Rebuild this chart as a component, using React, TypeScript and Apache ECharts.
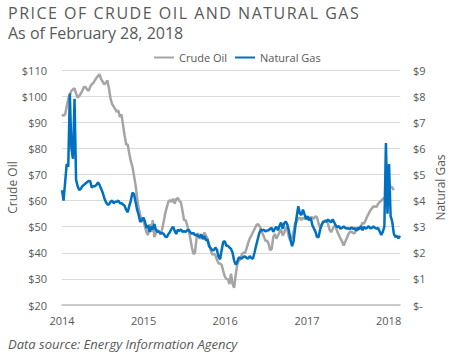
import { useEffect, useRef } from "react";
import * as echarts from "echarts";

// Weekly observations starting 2014-01-01
const startYear = 2014;
const titleText = "PRICE OF CRUDE OIL AND NATURAL GAS";
const subtitleText = "As of February 28, 2018";
const footerText = "Data source: Energy Information Agency";
const seriesNames = ["Crude Oil", "Natural Gas"];

// Crude oil, $ per barrel (weekly)
const oil = [
  93, 92.5, 93, 96, 99, 100.5, 102, 102.5, 103, 101,
  99.5, 100, 101, 102, 103.5, 103.5, 102.5, 102, 103.5, 104.5,
  105, 106, 107, 107.7, 108.3, 106.5, 105.5, 104.5, 105, 106,
  103, 99, 97, 96, 95, 94, 94.5, 92, 93, 89,
  85, 81.5, 81.5, 78, 75, 73, 69.5, 66, 61, 57,
  54.5, 52, 52.5, 50, 47.8, 46.8, 51, 48, 52.5, 46,
  47.5, 48.8, 48, 47, 49, 52, 55.2, 57.5, 59.6, 60.2,
  59.5, 60.7, 58.8, 60.5, 61, 59.9, 59.3, 56, 52.5, 52.5,
  50.5, 48.3, 45.5, 42, 39.5, 40, 45.8, 47.5, 45.3, 46.5,
  45.8, 47.7, 46.6, 45.4, 43.3, 40.9, 39.3, 39.6, 39.1, 37.3,
  36, 35.8, 35.5, 33.1, 31, 30, 29.9, 28, 32, 28,
  26.6, 31.5, 35.5, 37, 37.5, 39.5, 40, 40, 41.8, 43.8,
  45.5, 46.6, 47.9, 49, 50.3, 51, 50.5, 49.3, 47.6, 46.2,
  44.6, 44.6, 43.6, 41, 41.5, 46, 47.2, 45.4, 46.6, 47.9,
  49, 46.6, 47.6, 49.8, 48.8, 46, 44.5, 46, 48, 51.5,
  51.8, 53.2, 53.5, 52.5, 53.4, 53, 53.2, 52.8, 53.3, 53.6,
  53.5, 53, 54, 53.6, 51, 49.5, 50.8, 51.9, 52.4, 52.5,
  51, 48.8, 47.9, 49.1, 50.3, 49.7, 48, 46.7, 45.4, 44.3,
  42.8, 44.2, 45.7, 47.1, 48, 48.1, 47.6, 47.5, 48.9, 48.6,
  49.5, 50, 51.5, 51.1, 52.5, 53.9, 55, 56.2, 57, 57.7,
  57.7, 57.6, 58.7, 59.4, 59.9, 60.6, 61, 61.8, 62.4, 64.1,
  65.4, 65, 64,
];

// Natural gas, $ per MMBtu (weekly)
const gas = [
  4.4, 4.0, 4.7, 5.4, 5.3, 8.1, 6.0, 5.6, 7.9, 4.8,
  4.55, 4.4, 4.45, 4.55, 4.6, 4.65, 4.7, 4.75, 4.75, 4.5,
  4.55, 4.55, 4.6, 4.7, 4.6, 4.45, 4.3, 4.1, 3.95, 3.85,
  3.85, 3.95, 4.0, 3.9, 3.95, 3.95, 4.0, 3.9, 3.9, 3.85,
  3.8, 3.65, 3.55, 3.8, 4.0, 4.3, 4.25, 3.95, 3.65, 3.45,
  3.18, 3.25, 3.35, 3.2, 2.95, 3.05, 2.8, 3.0, 2.9, 3.1,
  2.88, 2.8, 2.82, 2.75, 2.75, 2.72, 2.62, 2.6, 2.72, 2.8,
  2.92, 3.0, 2.84, 2.72, 2.88, 2.84, 2.9, 2.8, 2.83, 2.8,
  2.86, 2.87, 2.78, 2.73, 2.76, 2.67, 2.7, 2.64, 2.6, 2.7,
  2.52, 2.64, 2.48, 2.5, 2.25, 2.18, 2.1, 2.1, 2.2, 2.12,
  1.85, 1.75, 2.1, 2.4, 2.45, 2.27, 2.27, 2.2, 2.15, 2.0,
  1.7, 1.55, 1.65, 1.82, 1.8, 1.78, 1.85, 1.86, 1.8, 1.78,
  1.87, 1.8, 1.77, 2.0, 2.26, 2.5, 2.74, 2.88, 2.86, 2.88,
  2.82, 2.85, 2.86, 2.92, 2.95, 2.8, 2.92, 3.0, 2.86, 3.03,
  3.16, 2.92, 3.13, 3.2, 3.08, 2.85, 2.5, 2.25, 2.45, 2.95,
  3.4, 3.78, 3.5, 3.45, 3.65, 3.47, 3.29, 3.4, 3.24, 3.33,
  3.05, 2.93, 2.8, 2.6, 2.6, 2.9, 3.08, 3.19, 3.2, 3.2,
  3.27, 3.22, 3.17, 3.28, 3.16, 3.04, 2.98, 3.02, 2.92, 2.95,
  3.01, 2.95, 2.93, 2.94, 2.9, 2.98, 2.91, 2.95, 2.85, 2.96,
  2.9, 3.02, 2.86, 3.0, 2.92, 2.96, 3.02, 2.94, 2.95, 3.01,
  2.95, 2.92, 2.95, 2.82, 2.68, 2.8, 3.0, 6.2, 3.5, 5.4,
  3.4, 3.2, 2.75, 2.6, 2.65, 2.55, 2.65,
];

const FONT = '"Open Sans", "Noto Sans", sans-serif';
const TXT = "#595959";

function weekDate(i: number): number {
  return new Date(startYear, 0, 1 + 7 * i).getTime();
}

export default function App() {
  const ref = useRef<HTMLDivElement>(null);
  useEffect(() => {
    if (!ref.current) return;
    const chart = echarts.init(ref.current, undefined, { renderer: "svg" });
    const DAY = 86400000;
    chart.setOption({
      animation: false,
      textStyle: { fontFamily: FONT },
      grid: { left: 62, right: 50, top: 70, bottom: 51, outerBoundsMode: "none", containLabel: false },
      legend: {
        data: seriesNames,
        left: 149,
        top: 47,
        icon: "rect",
        itemWidth: 20,
        itemHeight: 2,
        itemGap: 8,
        textStyle: { color: TXT, fontSize: 11, fontFamily: FONT },
      },
      graphic: [
        {
          type: "text",
          left: 8,
          top: 5,
          style: { text: titleText, font: `16px ${FONT}`, fill: TXT },
        },
        {
          type: "text",
          left: 8,
          top: 25,
          style: { text: subtitleText, font: `16px ${FONT}`, fill: TXT },
        },
        {
          type: "text",
          left: 8,
          top: 337,
          style: { text: footerText, font: `italic 13px ${FONT}`, fill: TXT },
        },
      ],
      xAxis: {
        type: "time",
        min: weekDate(0),
        max: weekDate(gas.length - 1),
        minInterval: 365 * DAY,
        maxInterval: 366 * DAY,
        axisLine: { lineStyle: { color: "#bfbfbf", width: 1.5 } },
        axisTick: { show: false },
        splitLine: { show: false },
        axisLabel: {
          color: TXT,
          fontSize: 11,
          margin: 10,
          fontFamily: FONT,
          formatter: (v: number) => {
            const d = new Date(v);
            return d.getMonth() === 0 && d.getDate() === 1 ? String(d.getFullYear()) : "";
          },
        },
      },
      yAxis: [
        {
          type: "value",
          min: 20,
          max: 110,
          interval: 10,
          name: seriesNames[0],
          nameLocation: "middle",
          nameRotate: 90,
          nameGap: 44,
          nameMoveOverlap: false,
          nameTextStyle: { color: TXT, fontSize: 12, fontFamily: FONT },
          axisLine: { show: false },
          axisTick: { show: false },
          splitLine: { lineStyle: { color: "#d9d9d9", width: 1 } },
          axisLabel: {
            color: TXT,
            fontSize: 11,
            margin: 15,
            fontFamily: FONT,
            formatter: (v: number) => "$" + v,
          },
        },
        {
          type: "value",
          position: "right",
          min: 0,
          max: 9,
          interval: 1,
          name: seriesNames[1],
          nameLocation: "middle",
          nameRotate: 90,
          nameGap: 34,
          nameMoveOverlap: false,
          nameTextStyle: { color: TXT, fontSize: 12, fontFamily: FONT },
          axisLine: { show: false },
          axisTick: { show: false },
          splitLine: { show: false },
          axisLabel: {
            color: TXT,
            fontSize: 11,
            margin: 13,
            fontFamily: FONT,
            formatter: (v: number) => (v === 0 ? "$-" : "$" + v),
          },
        },
      ],
      series: [
        {
          name: seriesNames[0],
          type: "line",
          yAxisIndex: 0,
          showSymbol: false,
          symbol: "none",
          lineStyle: { color: "#A5A5A5", width: 2.5 },
          itemStyle: { color: "#A5A5A5" },
          data: oil.map((v, i) => [weekDate(i), v]),
        },
        {
          name: seriesNames[1],
          type: "line",
          yAxisIndex: 1,
          showSymbol: false,
          symbol: "none",
          lineStyle: { color: "#0070C0", width: 2.5 },
          itemStyle: { color: "#0070C0" },
          data: gas.map((v, i) => [weekDate(i), v]),
        },
      ],
    });
    // widen title tracking like the reference
    const texts = ref.current.querySelectorAll("text");
    texts.forEach((t) => {
      if (t.textContent === titleText) t.setAttribute("letter-spacing", "1.5");
    });
    return () => chart.dispose();
  }, []);
  return <div ref={ref} style={{ width: 450, height: 356, position: "absolute", left: 0, top: 0 }} />;
}
